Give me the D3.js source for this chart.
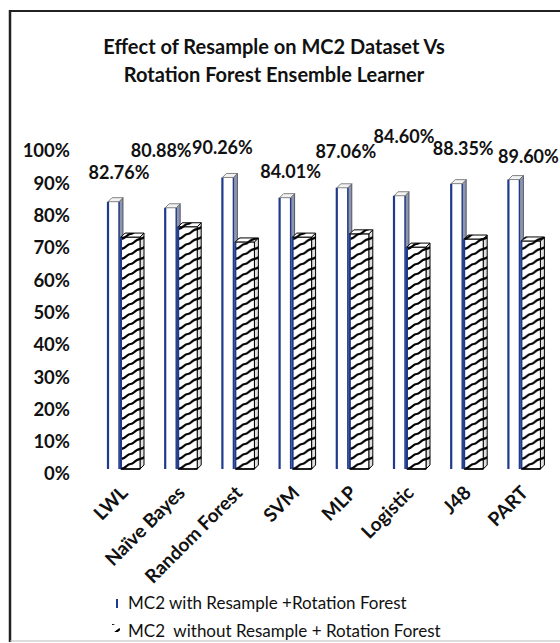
<!DOCTYPE html>
<html>
<head>
<meta charset="utf-8">
<script src="https://cdn.jsdelivr.net/npm/d3@7"></script>
<style>
  html, body { margin: 0; padding: 0; background: #fff; }
  svg { display: block; }
  text { font-family: Lato, "Open Sans", "DejaVu Sans", sans-serif; fill: #111; }
</style>
</head>
<body>
<script>
// ---- data ----
const categories = ["LWL", "Naïve Bayes", "Random Forest", "SVM", "MLP", "Logistic", "J48", "PART"];
const withResample = [0.8276, 0.8088, 0.9026, 0.8401, 0.8706, 0.8460, 0.8835, 0.8960];
const withoutResample = [0.718, 0.750, 0.703, 0.718, 0.728, 0.687, 0.712, 0.706];
const yTicks = [0, 0.1, 0.2, 0.3, 0.4, 0.5, 0.6, 0.7, 0.8, 0.9, 1.0];
const seriesNames = ["MC2 with Resample +Rotation Forest", "MC2  without Resample + Rotation Forest"];
const titleLines = ["Effect of Resample on MC2 Dataset Vs", "Rotation Forest Ensemble Learner"];

// ---- layout ----
const W = 560, H = 643;
const navy = "#1f3a8c";
const depth = 5;      // front face sits slightly above the wall baseline
const k = 4;          // 3D extrusion (up-right)
// value label nudges relative to the top of each "with resample" bar
const labelShift = [[-7, -25], [-22, -53], [-18, -25], [-7, -22], [-9, -32], [-8, -55], [-6, -31], [2, -19]];

const svg = d3.select("body").append("svg").attr("width", W).attr("height", H);

// frame
svg.append("rect").attr("x", 0).attr("y", 0).attr("width", W).attr("height", H).attr("fill", "#fff");
svg.append("line").attr("x1", 10).attr("x2", W).attr("y1", 11).attr("y2", 11).attr("stroke", "#222").attr("stroke-width", 2);
svg.append("line").attr("x1", 10).attr("x2", 10).attr("y1", 10).attr("y2", 642).attr("stroke", "#222").attr("stroke-width", 2.5);
svg.append("line").attr("x1", 10).attr("x2", W).attr("y1", 641).attr("y2", 641).attr("stroke", "#bbb").attr("stroke-width", 1);

// title
svg.append("g").selectAll("text").data(titleLines).join("text")
  .attr("x", 274).attr("y", (d, i) => 54 + i * 28)
  .attr("text-anchor", "middle")
  .style("font-size", "20px").style("font-weight", "bold")
  .text(d => d);

// scales
const y = d3.scaleLinear().domain([0, 1]).range([474, 151]);
const x = d3.scaleBand().domain(categories).range([97.4, 555]);
const bw = x.bandwidth();

// y axis (labels only)
const yAxis = svg.append("g").attr("transform", "translate(76,0)")
  .call(d3.axisLeft(y).tickValues(yTicks).tickFormat(d3.format(".0%")).tickSize(0).tickPadding(6));
yAxis.select(".domain").remove();
yAxis.selectAll("text").style("font-size", "18.5px").style("font-weight", "bold")
  .style("font-family", "Lato, sans-serif").attr("fill", "#111");

// hatch patterns, one per bar so stripes start at each bar's edge
const defs = svg.append("defs");
const base = y(0) - depth;
const geom = categories.map((c, i) => {
  const cx = x(c) + bw / 2;
  return {
    i, c, cx,
    wL: cx - 18, wR: cx - 7,
    hL: cx - 5, hR: cx + 14,
    topW: y(withResample[i]) - depth,
    topH: y(withoutResample[i]) - depth,
    v1: withResample[i]
  };
});

function addHatch(id, x0, y0, w) {
  const p = defs.append("pattern").attr("id", id)
    .attr("patternUnits", "userSpaceOnUse")
    .attr("x", x0).attr("y", y0).attr("width", w).attr("height", 10);
  p.append("rect").attr("width", w).attr("height", 10).attr("fill", "#fff");
  const m = w / 2;
  [-10, 0, 10].forEach(off => {
    p.append("path")
      .attr("d", `M-1,${10 + off} C${m - 4},${10 + off} ${m - 4},${5 + off} ${m},${5 + off} C${m + 4},${5 + off} ${m + 4},${off} ${w + 1},${off}`)
      .attr("fill", "none").attr("stroke", "#000").attr("stroke-width", 2.2);
  });
}
geom.forEach(g => addHatch("hatch" + g.i, g.hL, base, g.hR - g.hL));
addHatch("hatchLegend", 112, 624, 18);

const bars = svg.append("g");
geom.forEach(g => {
  const grp = bars.append("g");
  // --- with resample (white column) ---
  grp.append("path")
    .attr("d", `M${g.wR},${g.topW} L${g.wR + k},${g.topW - k} L${g.wR + k},${base - k} L${g.wR},${base} Z`)
    .attr("fill", "#8f96a8").attr("stroke", "#333a55").attr("stroke-width", 0.8);
  grp.append("rect")
    .attr("x", g.wL).attr("y", g.topW).attr("width", g.wR - g.wL).attr("height", base - g.topW)
    .attr("fill", "#fff");
  grp.append("line").attr("x1", g.wL).attr("x2", g.wL).attr("y1", g.topW).attr("y2", base)
    .attr("stroke", navy).attr("stroke-width", 2.2);
  grp.append("line").attr("x1", g.wR).attr("x2", g.wR).attr("y1", g.topW).attr("y2", base)
    .attr("stroke", navy).attr("stroke-width", 1.4);
  grp.append("path")
    .attr("d", `M${g.wL},${g.topW} L${g.wL + k},${g.topW - k} L${g.wR + k},${g.topW - k} L${g.wR},${g.topW} Z`)
    .attr("fill", "#f2f2f2").attr("stroke", "#666").attr("stroke-width", 0.8);

  // --- without resample (hatched column) ---
  const hp = `url(#hatch${g.i})`;
  const side = `M${g.hR},${g.topH} L${g.hR + k},${g.topH - k} L${g.hR + k},${base - k} L${g.hR},${base} Z`;
  grp.append("path").attr("d", side).attr("fill", hp).attr("stroke", "#000").attr("stroke-width", 1);
  grp.append("path").attr("d", side).attr("fill", "#000").attr("fill-opacity", 0.12);
  grp.append("rect")
    .attr("x", g.hL).attr("y", g.topH).attr("width", g.hR - g.hL).attr("height", base - g.topH)
    .attr("fill", hp).attr("stroke", "#000").attr("stroke-width", 1);
  grp.append("line").attr("x1", g.hL).attr("x2", g.hL).attr("y1", g.topH).attr("y2", base)
    .attr("stroke", navy).attr("stroke-width", 2);
  grp.append("line").attr("x1", g.hL).attr("x2", g.hR).attr("y1", base).attr("y2", base)
    .attr("stroke", "#000").attr("stroke-width", 1.5);
  grp.append("path")
    .attr("d", `M${g.hL},${g.topH} L${g.hL + k},${g.topH - k} L${g.hR + k},${g.topH - k} L${g.hR},${g.topH} Z`)
    .attr("fill", hp).attr("stroke", "#000").attr("stroke-width", 1);
});

// value labels for the "with resample" series
svg.append("g").selectAll("text").data(geom).join("text")
  .attr("x", g => g.cx + labelShift[g.i][0])
  .attr("y", g => g.topW - k + labelShift[g.i][1] + 6)
  .attr("text-anchor", "middle")
  .style("font-size", "18px").style("font-weight", "bold")
  .text(g => d3.format(".2%")(g.v1));

// category labels
svg.append("g").selectAll("text").data(geom).join("text")
  .attr("transform", g => `translate(${g.cx + 3},494) rotate(-45)`)
  .attr("text-anchor", "end")
  .style("font-size", "19px").style("font-weight", "bold")
  .text(g => g.c);

// legend
const leg = svg.append("g");
leg.append("line").attr("x1", 117).attr("x2", 117).attr("y1", 599).attr("y2", 608)
  .attr("stroke", navy).attr("stroke-width", 2);
leg.append("rect").attr("x", 112).attr("y", 624).attr("width", 8).attr("height", 8)
  .attr("fill", "url(#hatchLegend)");
leg.selectAll("text").data(seriesNames).join("text")
  .attr("x", 128).attr("y", (d, i) => 609 + i * 28)
  .style("font-size", "17px").style("white-space", "pre")
  .text(d => d);
</script>
</body>
</html>
